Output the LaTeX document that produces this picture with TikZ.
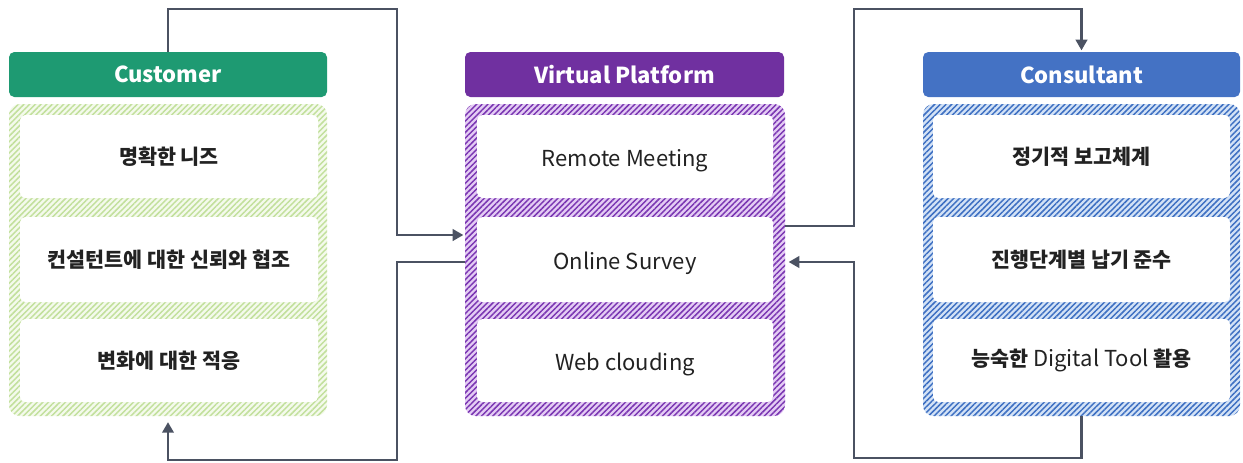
\documentclass[tikz,border=0pt]{standalone}
\usepackage{fontspec}
\setmainfont{Noto Sans CJK KR}
\usetikzlibrary{fit,calc,arrows.meta,patterns.meta}
\definecolor{cgreen}{HTML}{1E9A72}
\definecolor{cpurple}{HTML}{7030A0}
\definecolor{cblue}{HTML}{4472C4}
\definecolor{hgreen}{HTML}{C2E09C}
\definecolor{bgreen}{HTML}{F4FAEC}
\definecolor{hpurple}{HTML}{7A36B2}
\definecolor{bpurple}{HTML}{E4CCF4}
\definecolor{hblue}{HTML}{3D6FC2}
\definecolor{bblue}{HTML}{D3E2F6}
\definecolor{lncol}{HTML}{4B5262}
\definecolor{txt}{HTML}{222222}
\tikzset{
  hdr/.style={inner sep=0pt, rounded corners=4pt, fill=#1},
  hdrtext/.style={text=white, font=\fontsize{16.5}{20}\selectfont\bfseries},
  bodybox/.style n args={2}{inner sep=0pt, rounded corners=8pt,
    preaction={fill=#2},
    pattern={Lines[angle=45,distance=3pt,line width=1.1pt]}, pattern color=#1},
  item/.style={inner sep=0pt, rounded corners=4pt, fill=white},
  kr/.style={text=txt, font=\fontsize{15.5}{18}\selectfont\bfseries},
  en/.style={text=txt, yshift=-3pt, font=\fontsize{16.5}{19}\selectfont},
  conn/.style={draw=lncol, line width=2.1pt, -{Triangle[length=8pt,width=8.5pt]}, shorten >=1pt}
}
\begin{document}
\begin{tikzpicture}[x=0.75pt,y=-0.75pt]
\useasboundingbox (0,0) rectangle (1243,462);
% Customer
\node[hdr=cgreen, fit={(9,52)(327,97)}, label={[hdrtext]center:Customer}] (cust) {};
\node[bodybox={hgreen}{bgreen}, fit={(9,104)(327,416)}] (cbody) {};
\node[item, fit={(20,115)(318,198)}, label={[kr]center:명확한 니즈}] (c1) {};
\node[item, fit={(20,217)(318,302)}, label={[kr]center:컨설턴트에 대한 신뢰와 협조}] (c2) {};
\node[item, fit={(20,319)(318,402)}, label={[kr]center:변화에 대한 적응}] (c3) {};
% Virtual Platform
\node[hdr=cpurple, fit={(465,52)(784,97)}, label={[hdrtext]center:Virtual Platform}] (vp) {};
\node[bodybox={hpurple}{bpurple}, fit={(465,104)(785,416)}] (vbody) {};
\node[item, fit={(477,115)(773,198)}, label={[en]center:Remote Meeting}] (v1) {};
\node[item, fit={(477,217)(773,302)}, label={[en]center:Online Survey}] (v2) {};
\node[item, fit={(477,319)(773,402)}, label={[en]center:Web clouding}] (v3) {};
% Consultant
\node[hdr=cblue, fit={(923,52)(1240,97)}, label={[hdrtext]center:Consultant}] (cons) {};
\node[bodybox={hblue}{bblue}, fit={(923,104)(1240,416)}] (kbody) {};
\node[item, fit={(933,115)(1230,198)}, label={[kr]center:정기적 보고체계}] (k1) {};
\node[item, fit={(933,217)(1230,302)}, label={[kr]center:진행단계별 납기 준수}] (k2) {};
\node[item, fit={(933,319)(1230,402)}, label={[kr]center:능숙한 {\mdseries\fontsize{16.5}{19}\selectfont Digital Tool} 활용}] (k3) {};
% connectors
\coordinate (p1) at (397,9);
\coordinate (p2) at (397,460);
\coordinate (p3) at (854,9);
\coordinate (p4) at (854,458);
\draw[conn] (cust.north) |- (p1) |- ($(vbody.west)+(0,-25)$);
\draw[conn] ($(vbody.west)+(0,2)$) -| (p2) -| ($(cbody.south)+(0,4)$);
\draw[conn] ($(vbody.east)+(0,-34)$) -| (p3) -| (cons.north);
\draw[conn] (kbody.south) |- (p4) |- ($(vbody.east)+(2,2)$);
\end{tikzpicture}
\end{document}
